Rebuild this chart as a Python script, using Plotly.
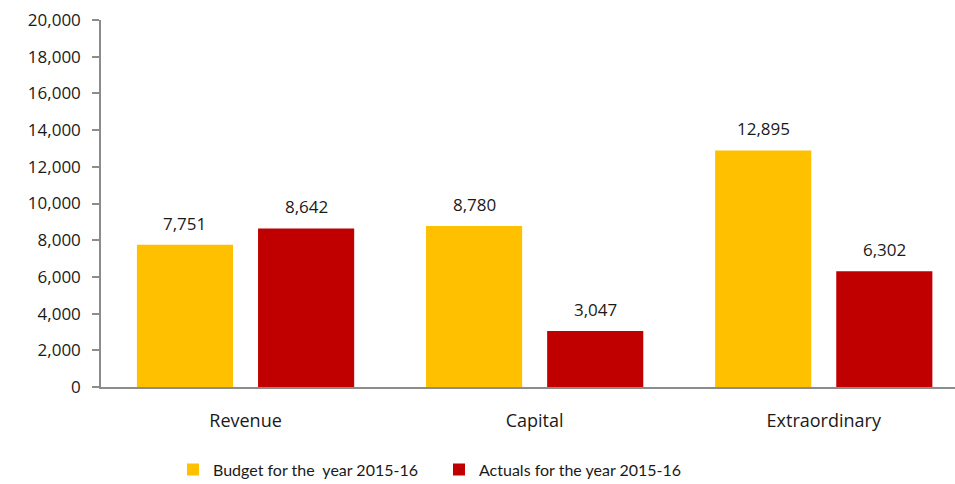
import plotly.graph_objects as go

categories = ["Revenue", "Capital", "Extraordinary"]
budget = [7751, 8780, 12895]
actuals = [8642, 3047, 6302]
series_names = ["Budget for the  year 2015-16", "Actuals for the year 2015-16"]
y_ticks = list(range(0, 20001, 2000))

YELLOW = "#FFC000"
RED = "#C00000"
FONT = "Open Sans"
TEXT = "#1a1a1a"
AXIS = "#8c8c8c"

# group occupies (1 - BARGAP) of each category; bars sit at the group edges
BARGAP = 0.2485
BAR_W = 0.3325
half = (1 - BARGAP) / 2
offsets = [-half, half - BAR_W]

xs = list(range(len(categories)))
fig = go.Figure()
for vals, name, color, off in zip([budget, actuals], series_names, [YELLOW, RED], offsets):
    fig.add_trace(go.Bar(x=xs, y=vals, name=name, width=BAR_W, offset=off,
                         marker=dict(color=color, line=dict(width=0))))
    # value label above each bar
    for i, v in enumerate(vals):
        fig.add_annotation(x=i + off + BAR_W / 2, y=v, text=f"{v:,}", showarrow=False,
                           yanchor="bottom", yshift=8,
                           font=dict(family=FONT, size=17, color=TEXT))

fig.update_layout(
    width=955, height=484,
    margin=dict(l=101, r=0, t=20, b=97, autoexpand=False),
    paper_bgcolor="white", plot_bgcolor="white",
    barmode="overlay",
    showlegend=True,
    legend=dict(orientation="h", x=0.0843, xanchor="left", y=-0.225, yanchor="middle",
                entrywidth=221, entrywidthmode="pixels",
                font=dict(family="Lato", size=16, color=TEXT),
                itemsizing="constant", traceorder="normal"),
    font=dict(family=FONT, color=TEXT),
)
fig.update_xaxes(range=[-0.5, 2.454], tickmode="array",
                 tickvals=xs, ticktext=categories, automargin=False,
                 showline=True, linecolor=AXIS, linewidth=1.5,
                 ticks="", showgrid=False, zeroline=False, ticklabelstandoff=17,
                 tickfont=dict(family=FONT, size=18, color=TEXT))
fig.update_yaxes(range=[0, 20000], tickmode="array", tickvals=y_ticks,
                 ticktext=[f"{t:,}" for t in y_ticks], automargin=False,
                 showline=True, linecolor=AXIS, linewidth=1.5,
                 ticks="outside", ticklen=7, tickcolor=AXIS, tickwidth=1.5,
                 showgrid=False, zeroline=False, ticklabelstandoff=8,
                 tickfont=dict(family=FONT, size=17, color=TEXT))

fig.write_html("out.html")
